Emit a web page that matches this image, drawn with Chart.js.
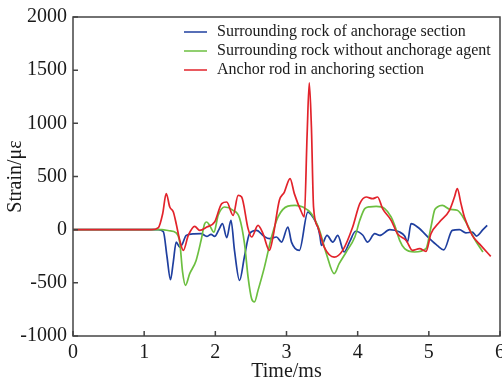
<!DOCTYPE html>
<html>
<head>
<meta charset="utf-8">
<script src="https://cdn.jsdelivr.net/npm/chart.js@4.4.1/dist/chart.umd.min.js"></script>
<style>
  html, body { margin: 0; padding: 0; background: #fff; }
  #wrap { width: 502px; height: 382px; }
</style>
</head>
<body>
<div id="wrap"><canvas id="strainChart"></canvas></div>
<script>
// Surrounding rock of anchorage section (blue)
const blueTime = [0, 1.2, 1.27, 1.32, 1.37, 1.41, 1.45, 1.50, 1.54, 1.59, 1.70, 1.80, 1.88, 1.94, 1.99, 2.05, 2.10, 2.16, 2.22, 2.27, 2.34, 2.41, 2.48, 2.58, 2.68, 2.76, 2.86, 2.93, 3.02, 3.07, 3.18, 3.30, 3.37, 3.44, 3.47, 3.49, 3.57, 3.65, 3.72, 3.81, 3.89, 3.97, 4.07, 4.14, 4.24, 4.31, 4.45, 4.59, 4.66, 4.70, 4.75, 4.85, 5.01, 5.12, 5.21, 5.33, 5.43, 5.52, 5.61, 5.67, 5.76, 5.82];
const blueStrain = [0, 0, -20, -250, -470, -300, -117, -164, -130, -54, -40, -38, -63, -44, -63, 0, 56, -75, 87, -200, -477, -250, -38, -7, -60, -85, -69, -117, 25, -117, -195, 165, 119, 25, -60, -148, -54, -117, -54, -210, -110, -15, -50, -117, -38, -54, 0, -23, -60, -117, 56, 20, -85, -150, -190, -7, 0, -30, -23, -60, 0, 40];

// Surrounding rock without anchorage agent (green)
const greenTime = [0, 1.25, 1.35, 1.45, 1.50, 1.54, 1.58, 1.64, 1.73, 1.80, 1.85, 1.88, 1.92, 1.98, 2.04, 2.13, 2.25, 2.34, 2.41, 2.46, 2.51, 2.55, 2.60, 2.69, 2.79, 2.88, 3.02, 3.12, 3.23, 3.35, 3.46, 3.56, 3.67, 3.74, 3.84, 3.96, 4.03, 4.10, 4.17, 4.26, 4.38, 4.47, 4.52, 4.59, 4.66, 4.80, 4.96, 5.03, 5.08, 5.12, 5.19, 5.30, 5.40, 5.52, 5.64, 5.76];
const greenStrain = [0, 0, -10, -30, -120, -400, -524, -414, -289, -100, 56, 72, 40, -23, 135, 213, 182, 110, -132, -446, -650, -680, -571, -352, -69, 119, 222, 228, 213, 150, 0, -226, -414, -320, -210, -69, 88, 198, 215, 219, 198, 120, 40, -100, -179, -210, -179, 25, 182, 213, 228, 190, 182, 72, -85, -210];

// Anchor rod in anchoring section (red)
const redTime = [0, 1.1, 1.2, 1.26, 1.31, 1.36, 1.41, 1.45, 1.50, 1.55, 1.62, 1.71, 1.78, 1.88, 1.99, 2.09, 2.16, 2.25, 2.32, 2.37, 2.46, 2.51, 2.60, 2.67, 2.76, 2.81, 2.90, 2.97, 3.05, 3.11, 3.21, 3.25, 3.29, 3.32, 3.35, 3.38, 3.44, 3.53, 3.67, 3.79, 3.93, 4.03, 4.12, 4.21, 4.28, 4.35, 4.47, 4.56, 4.68, 4.77, 4.87, 4.96, 5.03, 5.15, 5.29, 5.36, 5.40, 5.45, 5.50, 5.61, 5.73, 5.87];
const redStrain = [0, 0, 20, 150, 339, 213, 166, 56, -100, -195, -54, 31, -7, 25, 72, 245, 260, 135, 323, 307, 10, -69, 40, -38, -195, -69, 276, 354, 480, 339, 166, 119, 900, 1380, 965, 213, 25, -164, -258, -195, 25, 245, 307, 291, 307, 198, 88, -38, -100, -195, -179, -204, -38, 72, 182, 307, 386, 250, 119, -54, -148, -251];

const seriesLabels = [
  'Surrounding rock of anchorage section',
  'Surrounding rock without anchorage agent',
  'Anchor rod in anchoring section'
];

const toPoints = (xs, ys) => xs.map((t, i) => ({ x: t, y: ys[i] }));

// box round the plot and short inward ticks
const frameAndTicks = {
  id: 'frameAndTicks',
  afterDatasetsDraw(chart) {
    const { ctx, chartArea: a, scales: { x, y } } = chart;
    ctx.save();
    ctx.strokeStyle = '#444';
    ctx.lineWidth = 1.5;
    ctx.strokeRect(a.left, a.top, a.right - a.left, a.bottom - a.top);
    ctx.beginPath();
    x.ticks.forEach(t => {
      const px = x.getPixelForValue(t.value);
      ctx.moveTo(px, a.bottom);
      ctx.lineTo(px, a.bottom - 5);
    });
    y.ticks.forEach(t => {
      const py = y.getPixelForValue(t.value);
      ctx.moveTo(a.left, py);
      ctx.lineTo(a.left + 5, py);
    });
    ctx.stroke();
    ctx.restore();
  }
};

// legend drawn inside the plot, top right
const insideLegend = {
  id: 'insideLegend',
  afterDraw(chart) {
    const { ctx, chartArea: a } = chart;
    ctx.save();
    ctx.font = '16px "Liberation Serif"';
    ctx.textBaseline = 'middle';
    chart.data.datasets.forEach((ds, i) => {
      const yy = a.top + 15 + i * 19;
      ctx.strokeStyle = ds.borderColor;
      ctx.lineWidth = 1.5;
      ctx.beginPath();
      ctx.moveTo(a.left + 111, yy);
      ctx.lineTo(a.left + 134, yy);
      ctx.stroke();
      ctx.fillStyle = '#1a1a1a';
      ctx.fillText(ds.label, a.left + 144, yy);
    });
    ctx.restore();
  }
};

const serif = { family: '"Liberation Serif", "Times New Roman", serif', size: 20, lineHeight: 1 };

new Chart(document.getElementById('strainChart'), {
  type: 'line',
  data: {
    datasets: [
      { label: seriesLabels[0], data: toPoints(blueTime, blueStrain), borderColor: '#1f3f9f', order: 2 },
      { label: seriesLabels[1], data: toPoints(greenTime, greenStrain), borderColor: '#6cbf40', order: 1 },
      { label: seriesLabels[2], data: toPoints(redTime, redStrain), borderColor: '#e2232b', order: 0 }
    ]
  },
  options: {
    responsive: true,
    maintainAspectRatio: false,
    animation: false,
    layout: { padding: { top: 17, right: 2, left: 0, bottom: 0 } },
    elements: {
      line: { borderWidth: 1.7, cubicInterpolationMode: 'monotone', fill: false },
      point: { radius: 0 }
    },
    plugins: { legend: { display: false }, tooltip: { enabled: false } },
    scales: {
      x: {
        type: 'linear',
        min: 0,
        max: 6,
        grid: { display: false, drawTicks: false },
        border: { display: false },
        ticks: { stepSize: 1, padding: 7, color: '#1a1a1a', font: serif, maxRotation: 0 },
        title: { display: true, text: 'Time/ms', color: '#1a1a1a', font: serif, padding: { top: 0, bottom: 0 } },
        afterFit(scale) {
          scale.height = 46;
          scale.paddingLeft = 0;
          scale.paddingRight = 0;
        }
      },
      y: {
        min: -1000,
        max: 2000,
        grid: { display: false, drawTicks: false },
        border: { display: false },
        ticks: { stepSize: 500, padding: 6, color: '#1a1a1a', font: serif, callback: v => String(v) },
        title: { display: true, text: 'Strain/με', color: '#1a1a1a', font: serif, padding: { top: 6, bottom: 0 } },
        afterFit(scale) {
          scale.width = 73;
          scale.paddingTop = 0;
          scale.paddingBottom = 0;
        }
      }
    }
  },
  plugins: [frameAndTicks, insideLegend]
});
</script>
</body>
</html>
